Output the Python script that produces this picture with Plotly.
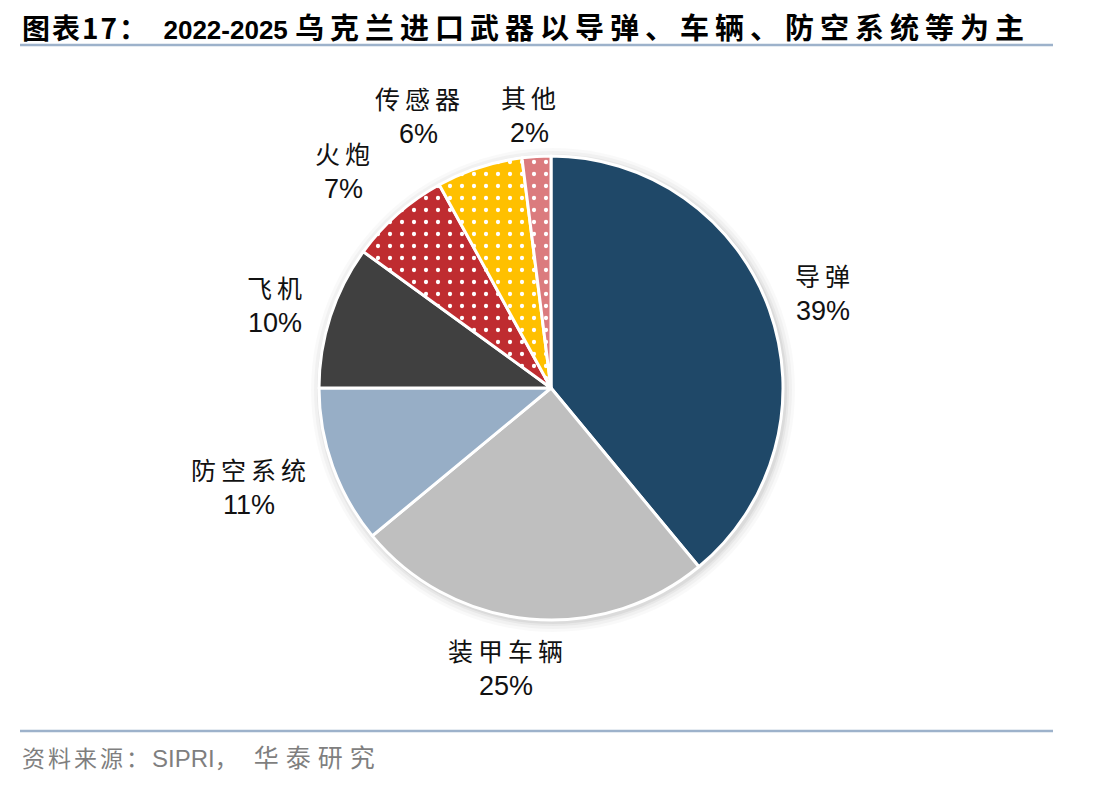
import plotly.graph_objects as go

# ---- data ----
categories = ["导弹", "装甲车辆", "防空系统", "飞机", "火炮", "传感器", "其他"]
shares = [39, 25, 11, 10, 7, 6, 2]

title_prefix = "图表17："
title_year = "2022-2025"
title_rest = "乌克兰进口武器以导弹、车辆、防空系统等为主"
source_cn1 = "资料来源："
source_en = "SIPRI"
source_comma = "，"
source_cn2 = "华泰研究"

# ---- styles ----
W, H = 1112, 786
colors = ["#1F4868", "#BFBFBF", "#97AEC6", "#404040", "#BF2C30", "#FFC000", "#DB7B7E"]
patterns = ["", "", "", "", ".", ".", "."]

cx, cy, r = 551, 388, 232  # pixel layout of the pie


def px(x):
    return x / W


def py(y):
    return 1 - y / H


# label anchor positions (pixels) : name line, percent line
label_pos = [(823, 275), (506, 650), (249, 469), (275, 287), (343, 153), (418, 98), (529, 97)]
pct_offset = 36

CJK = "Noto Sans CJK SC"
LAT = "Liberation Sans, Arial"

fig = go.Figure()

fig.add_trace(go.Pie(
    labels=categories,
    values=shares,
    sort=False,
    direction="clockwise",
    rotation=0,
    textinfo="none",
    hoverinfo="label+percent",
    showlegend=False,
    marker=dict(
        colors=colors,
        line=dict(color="white", width=3),
        pattern=dict(shape=patterns, fgcolor="white", bgcolor=colors,
                     size=12, solidity=0.1, fillmode="replace"),
    ),
    domain=dict(x=[px(cx - r), px(cx + r)], y=[py(cy + r), py(cy - r)]),
))

shapes = []
# soft shadow around pie
for d, a in [(10, 0.025), (7, 0.03), (4, 0.04), (2, 0.05)]:
    shapes.append(dict(
        type="circle", xref="paper", yref="paper", layer="below",
        x0=px(cx - r - d + 2), x1=px(cx + r + d + 2),
        y0=py(cy + r + d + 2), y1=py(cy - r - d + 2),
        fillcolor=f"rgba(0,0,0,{a})", line=dict(width=0),
    ))
# title and footer rules
for yy in (45, 731):
    shapes.append(dict(
        type="line", xref="paper", yref="paper",
        x0=px(20), x1=px(1053), y0=py(yy), y1=py(yy),
        line=dict(color="#9DB2CB", width=2.5),
    ))

annotations = []
for name, val, (lx, ly) in zip(categories, shares, label_pos):
    annotations.append(dict(
        text=f"<span style='letter-spacing:5px'>{name}</span>",
        x=px(lx + 2), y=py(ly), xref="paper", yref="paper",
        xanchor="center", yanchor="middle", showarrow=False,
        font=dict(family=CJK, size=25, color="#111111"),
    ))
    annotations.append(dict(
        text=f"{val}%", x=px(lx), y=py(ly + pct_offset), xref="paper", yref="paper",
        xanchor="center", yanchor="middle", showarrow=False,
        font=dict(family=LAT, size=27, color="#111111"),
    ))

title_html = (
    f"<b><span style='font-family:{CJK};font-size:28px;letter-spacing:2px'>{title_prefix}</span>"
    f"<span style='font-family:Liberation Sans;font-size:26px'>  {title_year} </span>"
    f"<span style='font-family:{CJK};font-size:29px;letter-spacing:6px'>{title_rest}</span></b>"
)
annotations.append(dict(
    text=title_html, x=px(20), y=py(26), xref="paper", yref="paper",
    xanchor="left", yanchor="middle", showarrow=False,
    font=dict(family=CJK, size=28, color="#000000"),
))
source_html = (
    f"<span style='font-family:{CJK};letter-spacing:3px'>{source_cn1}</span>"
    f"<span style='font-family:Liberation Sans;font-size:24px'>{source_en}</span>"
    f"<span style='font-family:{CJK};letter-spacing:16px'>{source_comma}</span>"
    f"<span style='font-family:{CJK};font-size:25px;letter-spacing:7px'>{source_cn2}</span>"
)
annotations.append(dict(
    text=source_html, x=px(20), y=py(756), xref="paper", yref="paper",
    xanchor="left", yanchor="middle", showarrow=False,
    font=dict(family=CJK, size=23, color="#7F7F7F"),
))

fig.update_layout(
    width=W, height=H,
    margin=dict(l=0, r=0, t=0, b=0),
    paper_bgcolor="white", plot_bgcolor="white",
    shapes=shapes, annotations=annotations,
)

fig.write_html("out.html")
